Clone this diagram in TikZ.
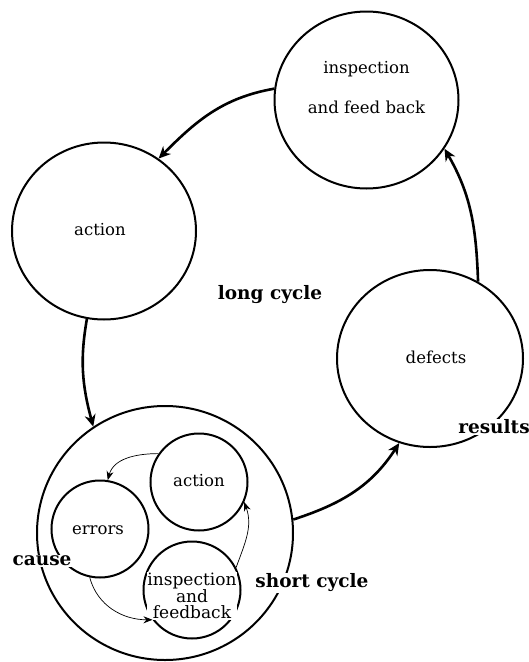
\documentclass[tikz,border=0pt]{standalone}
\usepackage{fontspec}
\setmainfont{DejaVu Serif}
\usetikzlibrary{arrows.meta,shapes.geometric}
\tikzset{
  ring/.style={ellipse,draw=black,line width=2pt,inner sep=0pt,minimum width=#1},
  ring/.default=184pt,
  small/.style={circle,draw=black,line width=2pt,inner sep=0pt,minimum size=97pt},
  txt/.style={font=\fontsize{16.5}{20}\selectfont,align=center,inner sep=0.5pt},
  tag/.style={font=\fontsize{18.5}{20}\selectfont\bfseries,fill=white,inner sep=1pt},
  arr/.style={-{Stealth[length=12pt,width=11pt]},line width=2.6pt},
  thinarr/.style={-{Stealth[length=9pt,width=7pt]},line width=0.7pt},
}
\begin{document}
\begin{tikzpicture}[x=1pt,y=-1pt]
    \useasboundingbox[fill=white] (0,0) rectangle (529,662);

    \node[ring,minimum height=177pt] (insp) at (366.5,100) {};
    \node[ring,minimum height=177pt] (act) at (104,231) {};
    \node[ring=186pt,minimum height=177pt] (dfct) at (430,358.5) {};
    \node[ring=256pt,minimum height=254pt] (outer) at (165,533) {};

    \node[small] (err) at (100,529) {};
    \node[small] (sact) at (199,482) {};
    \node[small] (sinsp) at (192,590) {};

    \node[txt] (insptxt) at (366.5,88) {inspection\\[20pt]and feed back};
    \node[txt] (acttxt) at (100,230) {action};
    \node[txt] (dfcttxt) at (436,357) {defects};
    \node[txt] (errtxt) at (98,530) {errors};
    \node[txt] (sacttxt) at (199,481) {action};
    \node[txt,font=\fontsize{17}{16}\selectfont,fill=white] (sinsptxt) at (192,596)
      {inspection\\and\\feedback};

    \draw[arr] (insp.173) to[out=190,in=45] (act.53);
    \draw[arr] (act.259) to[out=260,in=105] (outer.124.5);
    \draw[arr] (outer.6) to[out=18,in=237] (dfct.250);
    \draw[arr] (dfct.58) to[out=92,in=300] (insp.328);

    \draw[thinarr] (sact.145) to[out=180,in=75] (err.81);
    \draw[thinarr] (err.258) to[out=285,in=180] (sinsp.217);
    \draw[thinarr] (sinsp.27) to[out=70,in=290] (sact.336);

    \node[tag] (long) at (270,295) {long cycle};
    \node[tag] (res) at (494,427) {results};
    \node[tag] (cause) at (42,561) {cause};
    \node[tag] (short) at (312,583) {short cycle};
  \end{tikzpicture}
\end{document}
